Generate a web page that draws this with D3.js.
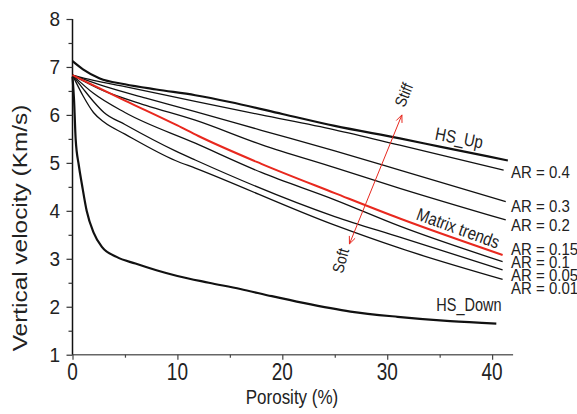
<!DOCTYPE html>
<html>
<head>
<meta charset="utf-8">
<script src="https://cdn.jsdelivr.net/npm/d3@7"></script>
<style>
  body { margin: 0; background: #fff; }
  text { font-family: "Liberation Sans", Arial, sans-serif; }
</style>
</head>
<body>
<div id="chart"></div>
<script>
// porosity (%), vertical velocity (km/s)
var hsUp = [[0,7.12],[1,6.95],[2.6,6.76],[5,6.64],[8,6.53],[11.7,6.41],[15,6.27],[20,6.02],[25,5.77],[31.2,5.51],[35,5.34],[41.5,5.05]];
var ar04 = [[0,6.83],[2,6.72],[5,6.59],[11.7,6.28],[18,6.0],[25,5.69],[31.2,5.37],[41.1,4.85]];
var ar03 = [[0,6.83],[3,6.6],[7,6.35],[11.7,6.07],[18,5.68],[25,5.25],[31.2,4.85],[41.3,4.19]];
var ar02 = [[0,6.83],[3,6.5],[7,6.2],[11.7,5.89],[18,5.38],[25,4.9],[31.2,4.47],[41.3,3.81]];
var matrixTrend = [[0,6.83],[5,6.3],[10,5.78],[12,5.56],[18,4.98],[25,4.37],[31.2,3.84],[41,3.08]];
var ar015 = [[0,6.83],[2,6.45],[5,6.05],[11.7,5.41],[18,4.8],[25,4.23],[31.2,3.68],[41,2.94]];
var ar005 = [[0,6.83],[1,6.55],[2,6.28],[3,6.05],[5,5.8],[9.8,5.25],[11.7,5.06],[25,3.88],[31.2,3.45],[41,2.77]];
var ar001 = [[0,6.83],[1,6.4],[2,6.05],[3,5.85],[5,5.6],[9.8,5.05],[11.7,4.89],[25,3.7],[31.2,3.22],[41,2.57]];
var hsDown = [[0,6.8],[0.15,6.3],[0.3,5.5],[0.6,4.95],[0.9,4.55],[1.35,4.0],[2,3.55],[2.8,3.25],[4.2,3.04],[6,2.9],[8,2.76],[10,2.64],[13,2.5],[16,2.37],[19,2.22],[22,2.08],[26.5,1.9],[31,1.79],[36,1.7],[40.4,1.65]];

var arLabels = ["AR = 0.4","AR = 0.3","AR = 0.2","AR = 0.15","AR = 0.1","AR = 0.05","AR = 0.01"];
var arLabelV = [4.8, 4.11, 3.71, 3.21, 2.94, 2.67, 2.4];
var xTicks = [0,10,20,30,40];
var yTicks = [1,2,3,4,5,6,7,8];

var w = 577, h = 414;
var x = d3.scaleLinear().domain([0,42]).range([72.5, 513.1]);
var y = d3.scaleLinear().domain([1,8]).range([354.7, 19]);

var svg = d3.select("#chart").append("svg")
  .attr("width", w).attr("height", h);

// text with a stretch, the figure's lettering is taller than plain Arial
function txt(str, px, py, size, sx, sy, rot, anchor, color) {
  svg.append("text")
    .attr("transform", "translate(" + px + "," + py + ") rotate(" + (rot || 0) + ") scale(" + sx + "," + sy + ")")
    .attr("text-anchor", anchor || "start")
    .attr("font-size", size)
    .attr("fill", color || "#222")
    .text(str);
}

// axes
var xAxis = d3.axisBottom(x).tickValues(d3.range(0, 42, 5)).tickSize(5).tickFormat("");
var gx = svg.append("g").attr("transform", "translate(0," + y(1) + ")").call(xAxis);
gx.select(".domain").attr("stroke", "#666").attr("stroke-width", 1.5).attr("d", "M" + x(0) + ",0H" + x(42));
gx.selectAll(".tick line").attr("stroke", "#444").attr("stroke-width", 1.2)
  .attr("y2", function(d) { return d % 10 === 0 ? 5 : 3; });

var yAxis = d3.axisLeft(y).tickValues(d3.range(1, 8.01, 0.5)).tickSize(6).tickFormat("");
var gy = svg.append("g").attr("transform", "translate(" + x(0) + ",0)").call(yAxis);
gy.select(".domain").attr("stroke", "#111").attr("stroke-width", 1.5).attr("d", "M0," + y(1) + "V" + y(8));
gy.selectAll(".tick line").attr("stroke", "#333").attr("stroke-width", 1.2)
  .attr("x2", function(d) { return d % 1 === 0 ? -6 : -4; });

xTicks.forEach(function(t) { txt(t, x(t), 380, 19, 1, 1.25, 0, "middle"); });
yTicks.forEach(function(t) { txt(t, 60, y(t) + 7, 19, 1, 1.05, 0, "end"); });

txt("Porosity (%)", 292, 404, 17, 1, 1.2, 0, "middle");
txt("Vertical velocity (Km/s)", 27, 228, 20, 1.22, 1, -90, "middle");

// curves
var line = d3.line()
  .x(function(d) { return x(d[0]); })
  .y(function(d) { return y(d[1]); })
  .curve(d3.curveMonotoneX);

var thin = [ar04, ar03, ar02, ar015, ar005, ar001];
svg.selectAll("path.ar")
  .data(thin)
  .enter()
  .append("path")
  .attr("class", "ar")
  .attr("d", line)
  .attr("fill", "none")
  .attr("stroke", "#111")
  .attr("stroke-width", 1.3);

svg.append("path").attr("d", line(matrixTrend)).attr("fill", "none")
  .attr("stroke", "#e8281e").attr("stroke-width", 2);
svg.append("path").attr("d", line(hsUp)).attr("fill", "none")
  .attr("stroke", "#111").attr("stroke-width", 2.2);
svg.append("path").attr("d", line(hsDown)).attr("fill", "none")
  .attr("stroke", "#111").attr("stroke-width", 2.2);

// AR labels at the right
arLabels.forEach(function(s, i) {
  txt(s, 511, y(arLabelV[i]) + 6, 15, 1, 1.15, 0, "start");
});

txt("HS_Up", 458, 144, 15, 1, 1.2, 11, "middle");
txt("Matrix trends", 456, 234, 15, 1, 1.2, 20, "middle");
txt("HS_Down", 469, 311, 14.5, 1, 1.25, 0, "middle");

// stiff / soft arrow
var a0 = [x(26.4), y(3.31)], a1 = [x(31.4), y(6.0)];
svg.append("line")
  .attr("x1", a0[0]).attr("y1", a0[1]).attr("x2", a1[0]).attr("y2", a1[1])
  .attr("stroke", "#e8281e").attr("stroke-width", 1);
var ang = Math.atan2(a1[1] - a0[1], a1[0] - a0[0]);
function head(p, dir) {
  var l = 8, s = 0.4;
  var p1 = [p[0] - dir * l * Math.cos(ang - s), p[1] - dir * l * Math.sin(ang - s)];
  var p2 = [p[0] - dir * l * Math.cos(ang + s), p[1] - dir * l * Math.sin(ang + s)];
  svg.append("path")
    .attr("d", "M" + p1 + "L" + p + "L" + p2)
    .attr("fill", "none").attr("stroke", "#e8281e").attr("stroke-width", 1);
}
head(a1, 1);
head(a0, -1);
txt("Stiff", 409, 97, 14, 1, 1.15, -68, "middle");
txt("Soft", 346, 262, 14, 1, 1.15, -75, "middle");
</script>
</body>
</html>
